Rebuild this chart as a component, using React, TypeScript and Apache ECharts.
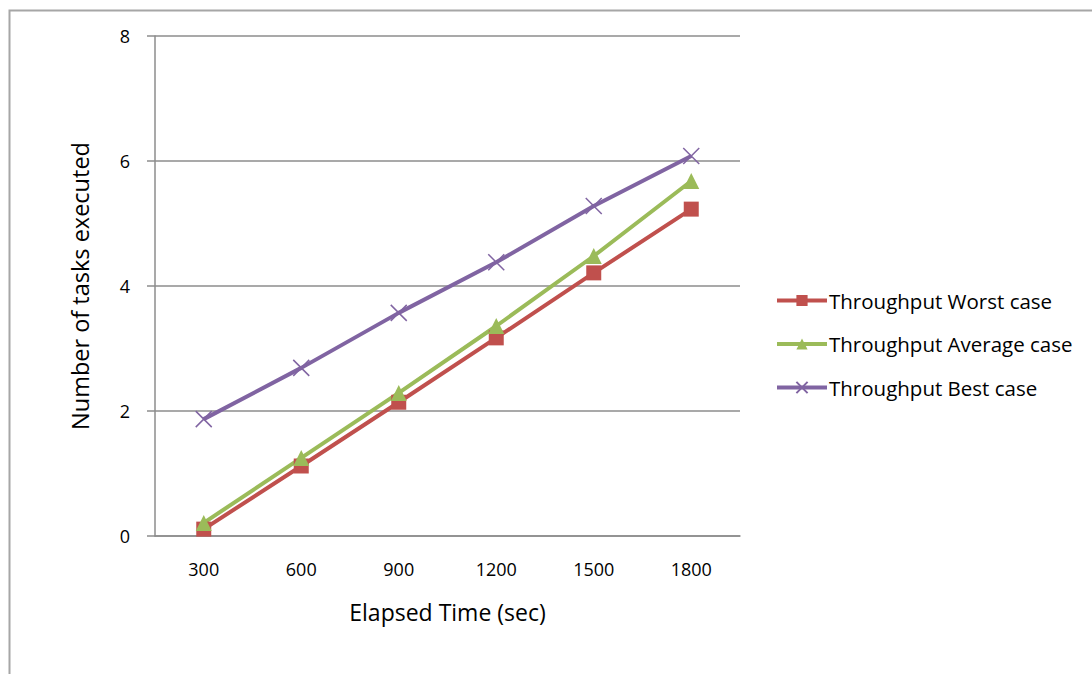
import React, { useEffect, useRef } from "react";
import * as echarts from "echarts";

const categories = ["300", "600", "900", "1200", "1500", "1800"];
const worstCase = [0.11, 1.12, 2.14, 3.17, 4.21, 5.23];
const averageCase = [0.21, 1.25, 2.29, 3.36, 4.48, 5.68];
const bestCase = [1.87, 2.69, 3.57, 4.38, 5.28, 6.08];

const FONT = "'Open Sans', sans-serif";

export default function App() {
  const ref = useRef<HTMLDivElement>(null);
  useEffect(() => {
    if (!ref.current) return;
    const chart = echarts.init(ref.current, null, { renderer: "svg" });
    const crossPath = "path://M0,0L10,10M10,0L0,10";
    chart.setOption({
      animation: false,
      backgroundColor: "#ffffff",
      textStyle: { fontFamily: FONT },
      graphic: [
        {
          type: "rect",
          shape: { x: 9.5, y: 10.5, width: 1200, height: 800 },
          style: { fill: "none", stroke: "#a6a6a6", lineWidth: 2 },
          silent: true,
        },
      ],
      grid: { left: 155, top: 36, right: 352, bottom: 138, containLabel: false },
      legend: {
        orient: "vertical",
        left: 770,
        top: 285,
        itemWidth: 50,
        itemHeight: 14,
        itemGap: 22.5,
        lineStyle: { width: 4 },
        textStyle: { fontSize: 20.5, lineHeight: 16, color: "#000", fontFamily: FONT, padding: [0, 0, 0, -3] },
        data: ["Throughput Worst case", "Throughput Average case", "Throughput Best case"],
      },
      xAxis: {
        type: "category",
        data: categories,
        boundaryGap: true,
        name: "Elapsed Time (sec)",
        nameLocation: "middle",
        nameGap: 64,
        nameTextStyle: { fontSize: 23, color: "#000", fontFamily: FONT },
        axisLine: { lineStyle: { color: "#8c8c8c", width: 1.5 } },
        axisTick: { alignWithLabel: true, length: 6, lineStyle: { color: "#8c8c8c", width: 1.5 } },
        axisLabel: { fontSize: 18, color: "#000", margin: 24, fontFamily: FONT },
        splitLine: { show: false },
      },
      yAxis: {
        type: "value",
        min: 0,
        max: 8,
        interval: 2,
        name: "Number of tasks executed",
        nameLocation: "middle",
        nameGap: 63,
        nameTextStyle: { fontSize: 23.5, color: "#000", fontFamily: FONT },
        axisLine: { show: true, lineStyle: { color: "#8c8c8c", width: 1.5 } },
        axisTick: { show: true, length: 8, lineStyle: { color: "#8c8c8c", width: 1.5 } },
        axisLabel: { fontSize: 18, color: "#000", margin: 25, fontFamily: FONT },
        splitLine: { show: true, lineStyle: { color: "#8c8c8c", width: 1.5 } },
      },
      series: [
        {
          name: "Throughput Worst case",
          type: "line",
          data: worstCase,
          symbol: "rect",
          symbolSize: 15,
          color: "#c0504d",
          lineStyle: { width: 4, color: "#c0504d" },
          itemStyle: { color: "#c0504d" },
        },
        {
          name: "Throughput Average case",
          type: "line",
          data: averageCase,
          symbol: "triangle",
          symbolSize: 16,
          color: "#9bbb59",
          lineStyle: { width: 4, color: "#9bbb59" },
          itemStyle: { color: "#9bbb59" },
        },
        {
          name: "Throughput Best case",
          type: "line",
          data: bestCase,
          symbol: crossPath,
          symbolSize: 16,
          color: "#8064a2",
          lineStyle: { width: 4, color: "#8064a2" },
          itemStyle: { color: "#8064a2", borderColor: "#8064a2", borderWidth: 1.5 },
        },
      ],
    });
    return () => chart.dispose();
  }, []);
  return (
    <div
      ref={ref}
      style={{ position: "fixed", left: 0, top: 0, width: 1092, height: 674 }}
    />
  );
}
